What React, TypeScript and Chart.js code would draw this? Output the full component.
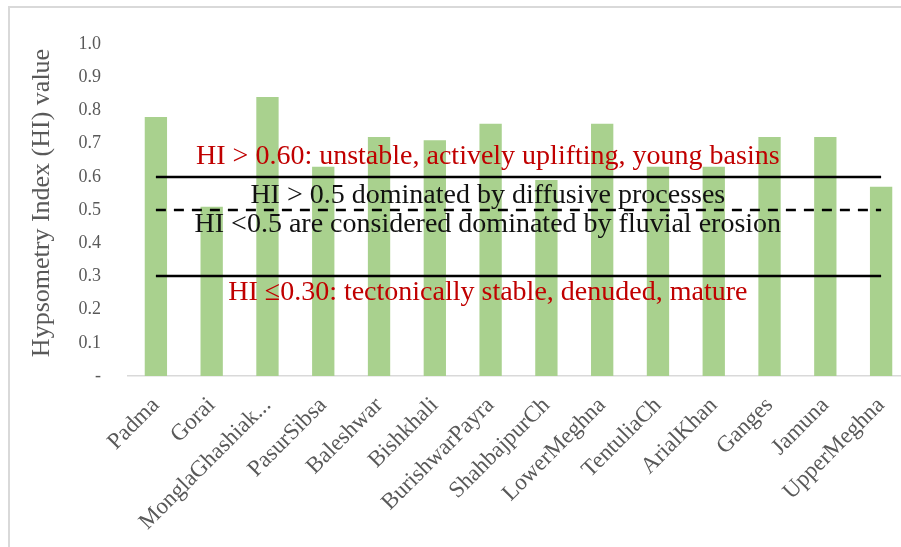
import React, { useEffect, useRef } from "react";
import { Chart, registerables } from "chart.js";

Chart.register(...registerables);

const categories = [
  "Padma",
  "Gorai",
  "MonglaGhashiak...",
  "PasurSibsa",
  "Baleshwar",
  "Bishkhali",
  "BurishwarPayra",
  "ShahbajpurCh",
  "LowerMeghna",
  "TentuliaCh",
  "ArialKhan",
  "Ganges",
  "Jamuna",
  "UpperMeghna",
];
const hiValues = [0.78, 0.51, 0.84, 0.63, 0.72, 0.71, 0.76, 0.59, 0.76, 0.63, 0.63, 0.72, 0.72, 0.57];

const yTickValues = [0, 0.1, 0.2, 0.3, 0.4, 0.5, 0.6, 0.7, 0.8, 0.9, 1.0];
const yAxisTitle = "Hypsometry Index (HI) value";

const thresholdValues = [0.6, 0.5, 0.3];
const thresholdDashed = [false, true, false];

const noteTexts = [
  "HI > 0.60: unstable, actively uplifting, young basins",
  "HI > 0.5 dominated by diffusive processes",
  "HI <0.5 are considered dominated by fluvial erosion",
  "HI \u22640.30: tectonically stable, denuded, mature",
];
const noteValues = [0.64, 0.52, 0.435, 0.23];
const noteColors = ["#c00000", "#111111", "#111111", "#c00000"];
const noteCenterIndex = 5.95;

const SERIF = "'Liberation Serif', 'DejaVu Serif', serif";

const overlayPlugin = {
  id: "overlay",
  beforeDraw(chart: any) {
    const ctx = chart.ctx;
    ctx.save();
    ctx.fillStyle = "#ffffff";
    ctx.fillRect(0, 0, chart.width, chart.height);
    ctx.strokeStyle = "#d9d9d9";
    ctx.lineWidth = 2;
    ctx.strokeRect(9, 7, 2000, 2000);
    // y-axis title
    const ys = chart.scales.y;
    ctx.fillStyle = "#595959";
    ctx.font = `26px ${SERIF}`;
    ctx.textAlign = "center";
    ctx.textBaseline = "alphabetic";
    ctx.translate(49, (ys.top + ys.bottom) / 2 - 7);
    ctx.rotate(-Math.PI / 2);
    ctx.fillText(yAxisTitle, 0, 0);
    ctx.restore();
  },
  afterDatasetsDraw(chart: any) {
    const ctx = chart.ctx;
    const xs = chart.scales.x;
    const ys = chart.scales.y;
    const x0 = xs.getPixelForValue(0);
    const x1 = xs.getPixelForValue(categories.length - 1);
    ctx.save();
    thresholdValues.forEach((v, i) => {
      const y = Math.round(ys.getPixelForValue(v));
      ctx.beginPath();
      ctx.strokeStyle = "#000000";
      ctx.lineWidth = 2.5;
      ctx.setLineDash(thresholdDashed[i] ? [10, 8] : []);
      ctx.moveTo(x0, y);
      ctx.lineTo(x1, y);
      ctx.stroke();
    });
    ctx.setLineDash([]);
    const cx = xs.getPixelForValue(noteCenterIndex);
    ctx.font = `28px ${SERIF}`;
    ctx.textAlign = "center";
    ctx.textBaseline = "alphabetic";
    noteTexts.forEach((t, i) => {
      ctx.fillStyle = noteColors[i];
      ctx.fillText(t, cx, ys.getPixelForValue(noteValues[i]));
    });
    ctx.restore();
  },
};

export default function App() {
  const ref = useRef<HTMLCanvasElement | null>(null);
  useEffect(() => {
    if (!ref.current) return;
    const chart = new Chart(ref.current, {
      type: "bar",
      data: {
        labels: categories,
        datasets: [
          {
            data: hiValues,
            backgroundColor: "#a9d18e",
            borderWidth: 0,
            barPercentage: 0.4,
            categoryPercentage: 1,
          },
        ],
      },
      options: {
        responsive: false,
        animation: false,
        devicePixelRatio: 1,
        layout: { padding: { top: 44, right: 0, bottom: 0, left: 0 } },
        plugins: {
          legend: { display: false },
          tooltip: { enabled: false },
          title: { display: false },
        },
        scales: {
          x: {
            offset: true,
            grid: { display: false, drawTicks: false },
            border: { display: true, color: "#d9d9d9", width: 1.5 },
            ticks: {
              autoSkip: false,
              minRotation: 45,
              maxRotation: 45,
              padding: 16,
              color: "#595959",
              font: { family: SERIF, size: 23 },
            },
            afterFit: (s: any) => {
              s.height = 171;
              s.paddingRight = 0;
            },
          },
          y: {
            min: 0,
            max: 1,
            grid: { display: false, drawTicks: false },
            border: { display: false },
            afterBuildTicks: (s: any) => {
              s.ticks = yTickValues.map((v) => ({ value: v }));
            },
            ticks: {
              padding: 27,
              color: "#595959",
              font: { family: SERIF, size: 18 },
              callback: (v: any) => (Number(v) === 0 ? "-" : Number(v).toFixed(1)),
            },
            afterFit: (s: any) => {
              s.width = 128;
            },
          },
        },
      },
      plugins: [overlayPlugin],
    });
    return () => chart.destroy();
  }, []);
  return (
    <div style={{ position: "absolute", left: 0, top: 0, width: 901, height: 547, overflow: "hidden" }}>
      <canvas ref={ref} width={909} height={547} style={{ display: "block" }} />
    </div>
  );
}
